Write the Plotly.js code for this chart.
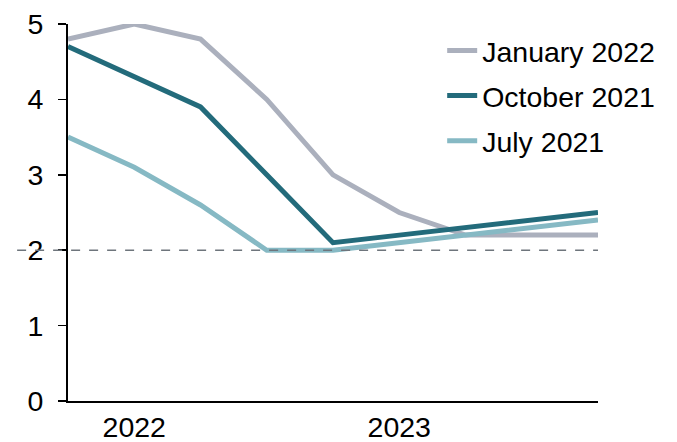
<!DOCTYPE html>
<html>
<head>
<meta charset="utf-8">
<script src="https://cdn.plot.ly/plotly-3.0.1.min.js"></script>
<style>html,body{margin:0;padding:0;background:#fff}#chart{width:677px;height:442px}</style>
</head>
<body>
<div id="chart"></div>
<script>
// Quarter index 0..8 (2021 Q4 .. 2023 Q4)
const quarters = [0, 1, 2, 3, 4, 5, 6, 7, 8];
const tickPositions = [1, 5];
const tickLabels = ["2022", "2023"];
const seriesNames = ["January 2022", "October 2021", "July 2021"];
const jan2022 = [4.8, 5.0, 4.8, 4.0, 3.0, 2.5, 2.2, 2.2, 2.2];
const oct2021 = [4.7, 4.3, 3.9, 3.0, 2.1, 2.2, 2.3, 2.4, 2.5];
const jul2021 = [3.5, 3.1, 2.6, 2.0, 2.0, 2.1, 2.2, 2.3, 2.4];
const targetLevel = 2;

const colors = ["#abb0bd", "#236b7b", "#86b9c4"];
const values = [jan2022, oct2021, jul2021];

const traces = values.map((v, i) => ({
  x: quarters, y: v, type: "scatter", mode: "lines",
  name: seriesNames[i], legendgroup: "g" + i,
  line: {color: colors[i], width: 5}
}));

const font = {family: "Arial, 'Liberation Sans', sans-serif", size: 28.5, color: "#000"};

const layout = {
  width: 677, height: 442,
  margin: {l: 68, r: 79, t: 24, b: 41},
  paper_bgcolor: "#fff", plot_bgcolor: "#fff",
  font: font,
  showlegend: true,
  legend: {x: 0.706, y: 0.996, xanchor: "left", yanchor: "top",
           font: font, bgcolor: "rgba(0,0,0,0)", tracegroupgap: 5, traceorder: "grouped"},
  xaxis: {range: [0, 8], tickvals: tickPositions, ticktext: tickLabels,
          showgrid: false, zeroline: false, showline: true, linecolor: "#000", linewidth: 2,
          ticks: "", tickfont: font, fixedrange: true},
  yaxis: {range: [0, 5], dtick: 1, showgrid: false, zeroline: false,
          showline: true, linecolor: "#000", linewidth: 2,
          ticks: "outside", ticklen: 8, tickwidth: 1.5, tickcolor: "#000",
          ticklabelstandoff: 9, tickfont: font, fixedrange: true},
  shapes: [{type: "line", xref: "paper", yref: "y", x0: -0.096, x1: 1, y0: targetLevel, y1: targetLevel,
            layer: "above", line: {color: "#6e757c", width: 1.5, dash: "dash"}}]
};

Plotly.newPlot("chart", traces, layout, {staticPlot: true, displayModeBar: false});
</script>
</body>
</html>
